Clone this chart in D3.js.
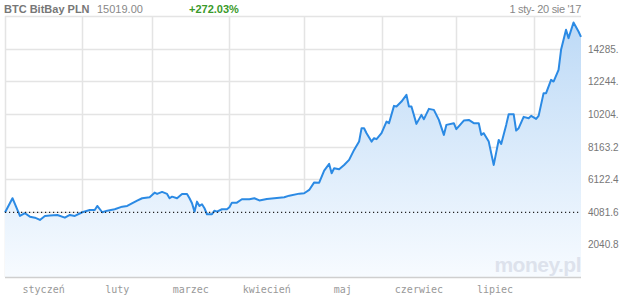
<!DOCTYPE html>
<html>
<head>
<meta charset="utf-8">
<script src="https://cdn.jsdelivr.net/npm/d3@7"></script>
<style>
  body { margin: 0; background: #fff; }
  svg { display: block; }
</style>
</head>
<body>
<svg width="620" height="298"></svg>
<script>
//// BTC BitBay PLN - line chart ////

// quote header
var title = "BTC BitBay PLN";
var lastPrice = "15019.00";
var change = "+272.03%";
var period = "1 sty- 20 sie '17";
var startPrice = 4037;

// prices (date, PLN)
var dates = [
    "2017-01-01", "2017-01-04", "2017-01-07", "2017-01-09", "2017-01-11", "2017-01-13", "2017-01-15",
    "2017-01-17", "2017-01-19", "2017-01-22", "2017-01-25", "2017-01-27", "2017-01-29", "2017-02-01",
    "2017-02-04", "2017-02-06", "2017-02-07", "2017-02-09", "2017-02-11", "2017-02-14", "2017-02-17",
    "2017-02-19", "2017-02-23", "2017-02-25", "2017-02-28", "2017-03-02", "2017-03-03", "2017-03-05",
    "2017-03-07", "2017-03-08", "2017-03-09", "2017-03-11", "2017-03-13", "2017-03-15", "2017-03-16",
    "2017-03-17", "2017-03-18", "2017-03-19", "2017-03-20", "2017-03-21", "2017-03-22", "2017-03-23",
    "2017-03-25", "2017-03-26", "2017-03-27", "2017-03-29", "2017-03-31", "2017-04-01", "2017-04-02",
    "2017-04-04", "2017-04-06", "2017-04-09", "2017-04-11", "2017-04-13", "2017-04-16", "2017-04-20",
    "2017-04-23", "2017-04-25", "2017-04-29", "2017-05-01", "2017-05-03", "2017-05-05", "2017-05-07",
    "2017-05-09", "2017-05-11", "2017-05-12", "2017-05-13", "2017-05-15", "2017-05-17", "2017-05-19",
    "2017-05-21", "2017-05-23", "2017-05-24", "2017-05-25", "2017-05-26", "2017-05-28", "2017-05-29",
    "2017-05-30", "2017-06-01", "2017-06-03", "2017-06-04", "2017-06-06", "2017-06-07", "2017-06-09",
    "2017-06-11", "2017-06-12", "2017-06-13", "2017-06-15", "2017-06-17", "2017-06-18", "2017-06-20",
    "2017-06-22", "2017-06-24", "2017-06-26", "2017-06-27", "2017-06-30", "2017-07-01", "2017-07-04",
    "2017-07-06", "2017-07-08", "2017-07-10", "2017-07-11", "2017-07-12", "2017-07-14", "2017-07-16",
    "2017-07-18", "2017-07-19", "2017-07-21", "2017-07-22", "2017-07-24", "2017-07-25", "2017-07-26",
    "2017-07-28", "2017-07-30", "2017-07-31", "2017-08-02", "2017-08-03", "2017-08-05", "2017-08-06",
    "2017-08-08", "2017-08-09", "2017-08-11", "2017-08-12", "2017-08-14", "2017-08-15", "2017-08-17",
    "2017-08-19", "2017-08-20"
];
var prices = [
    4037, 4930, 3820, 3990, 3775, 3712, 3570,
    3820, 3840, 3880, 3712, 3880, 3820, 4050,
    4195, 4195, 4445, 4050, 4150, 4240, 4400,
    4445, 4776, 4927, 4990, 5277, 5196, 5321,
    5196, 4927, 5027, 4927, 5196, 5196, 4927,
    4614, 4088, 4714, 4445, 4551, 4301, 3925,
    3925, 4150, 4088, 4238, 4238, 4363, 4651,
    4651, 4864, 4864, 4927, 4789, 4883, 4945,
    4989, 5089, 5215, 5240, 5446, 5916, 5903,
    6654, 7074, 6492, 6805, 6742, 7011, 7324,
    7950, 8470, 9309, 9309, 8996, 8470, 8683,
    8620, 8996, 9722, 9622, 10705, 10661, 10974,
    11393, 10661, 10661, 9578, 10141, 9872, 10517,
    10454, 9828, 8889, 9515, 9622, 9246, 9784,
    9828, 9622, 9622, 8889, 8996, 8470, 7011,
    8576, 8326, 9515, 10185, 10185, 9158, 9309,
    10016, 9934, 10079, 9891, 10079, 11500, 11500,
    12332, 12226, 12958, 14210, 15462, 14943, 15920,
    15356, 15019
];

// axis labels
var months = ["styczeń", "luty", "marzec", "kwiecień", "maj", "czerwiec", "lipiec"];
var yTicks = [2040.8, 4081.6, 6122.4, 8163.2, 10204.0, 12244.8, 14285.6, 16326.4];
// labels as printed in the reference (long ones are cut after the dot)
var yLabels = ["2040.8", "4081.6", "6122.4", "8163.2", "10204.", "12244.", "14285."];

var parseDate = d3.timeParse("%Y-%m-%d");
var data = dates.map(function (d, i) {
    return { date: parseDate(d), value: prices[i] };
});

var svg = d3.select("svg");
// plot box (note: "top" is taken by window.top, so use a margin object)
var box = { left: 5, right: 581, top: 16, bottom: 277 };

var x = d3.scaleTime()
    .domain([parseDate("2017-01-01"), parseDate("2017-08-20")])
    .range([box.left, box.right]);
var y = d3.scaleLinear()
    .domain([0, 16326.4])
    .range([box.bottom, box.top]);

// gradient for the area under the line
var grad = svg.append("defs").append("linearGradient")
    .attr("id", "fillGrad")
    .attr("gradientUnits", "userSpaceOnUse")
    .attr("x1", 0).attr("y1", box.top)
    .attr("x2", 0).attr("y2", box.bottom);
grad.append("stop").attr("offset", "0%").attr("stop-color", "#bcd9f6");
grad.append("stop").attr("offset", "100%").attr("stop-color", "#f7fbff");

// horizontal grid
svg.append("g")
    .selectAll("line")
    .data(yTicks)
    .enter().append("line")
    .attr("x1", box.left).attr("x2", box.right)
    .attr("y1", function (d) { return Math.round(y(d)) + 0.5; })
    .attr("y2", function (d) { return Math.round(y(d)) + 0.5; })
    .attr("stroke", "#e4e4e4")
    .attr("stroke-width", 1.5);

// vertical grid at month starts
var monthStarts = d3.timeMonth.range(parseDate("2017-01-01"), parseDate("2017-08-20"));
svg.append("g")
    .selectAll("line")
    .data(monthStarts)
    .enter().append("line")
    .attr("x1", function (d) { return Math.round(x(d)) + 0.5; })
    .attr("x2", function (d) { return Math.round(x(d)) + 0.5; })
    .attr("y1", box.top).attr("y2", box.bottom)
    .attr("stroke", "#e4e4e4")
    .attr("stroke-width", 1.5);

// area + line
var area = d3.area()
    .x(function (d) { return x(d.date); })
    .y0(box.bottom)
    .y1(function (d) { return y(d.value); });
var line = d3.line()
    .x(function (d) { return x(d.date); })
    .y(function (d) { return y(d.value); });

svg.append("path")
    .datum(data)
    .attr("fill", "url(#fillGrad)")
    .attr("d", area);

// watermark
svg.append("text")
    .attr("x", box.right)
    .attr("y", 272)
    .attr("text-anchor", "end")
    .attr("font-family", "Liberation Sans, Arial, sans-serif")
    .attr("font-weight", "bold")
    .attr("font-size", 21)
    .attr("fill", "#dde2ec")
    .attr("letter-spacing", -0.5)
    .text("money.pl");

svg.append("path")
    .datum(data)
    .attr("fill", "none")
    .attr("stroke", "#2b8ae4")
    .attr("stroke-width", 2)
    .attr("stroke-linejoin", "round")
    .attr("d", line);

// start price reference
svg.append("line")
    .attr("x1", box.left).attr("x2", box.right)
    .attr("y1", y(startPrice)).attr("y2", y(startPrice))
    .attr("stroke", "#222")
    .attr("stroke-width", 1.2)
    .attr("stroke-dasharray", "1.2,2.8");

// bottom axis line
svg.append("line")
    .attr("x1", box.left).attr("x2", box.right)
    .attr("y1", box.bottom + 0.5).attr("y2", box.bottom + 0.5)
    .attr("stroke", "#cfcfcf")
    .attr("stroke-width", 1.5);

// month labels centred in each month
svg.append("g")
    .attr("font-family", "DejaVu Sans Mono, monospace")
    .attr("font-size", 10)
    .attr("fill", "#999")
    .selectAll("text")
    .data(months)
    .enter().append("text")
    .attr("x", function (d, i) {
        return (x(monthStarts[i]) + x(monthStarts[i + 1])) / 2;
    })
    .attr("y", 293)
    .attr("text-anchor", "middle")
    .text(function (d) { return d; });

// value labels on the right
svg.append("g")
    .attr("font-family", "Liberation Sans, Arial, sans-serif")
    .attr("font-size", 10)
    .attr("fill", "#777")
    .selectAll("text")
    .data(yLabels)
    .enter().append("text")
    .attr("x", 588)
    .attr("y", function (d, i) { return y(yTicks[i]) + 4; })
    .text(function (d) { return d; });

// header
var head = svg.append("g")
    .attr("font-family", "Liberation Sans, Arial, sans-serif")
    .attr("font-size", 11);
head.append("text").attr("x", 4).attr("y", 13)
    .attr("font-weight", "bold").attr("fill", "#777").text(title);
head.append("text").attr("x", 97).attr("y", 13)
    .attr("fill", "#888").text(lastPrice);
head.append("text").attr("x", 189).attr("y", 13)
    .attr("font-weight", "bold").attr("fill", "#3a9a2a").text(change);
head.append("text").attr("x", 581).attr("y", 13)
    .attr("text-anchor", "end").attr("fill", "#888")
    .attr("letter-spacing", -0.3).text(period);
</script>
</body>
</html>
